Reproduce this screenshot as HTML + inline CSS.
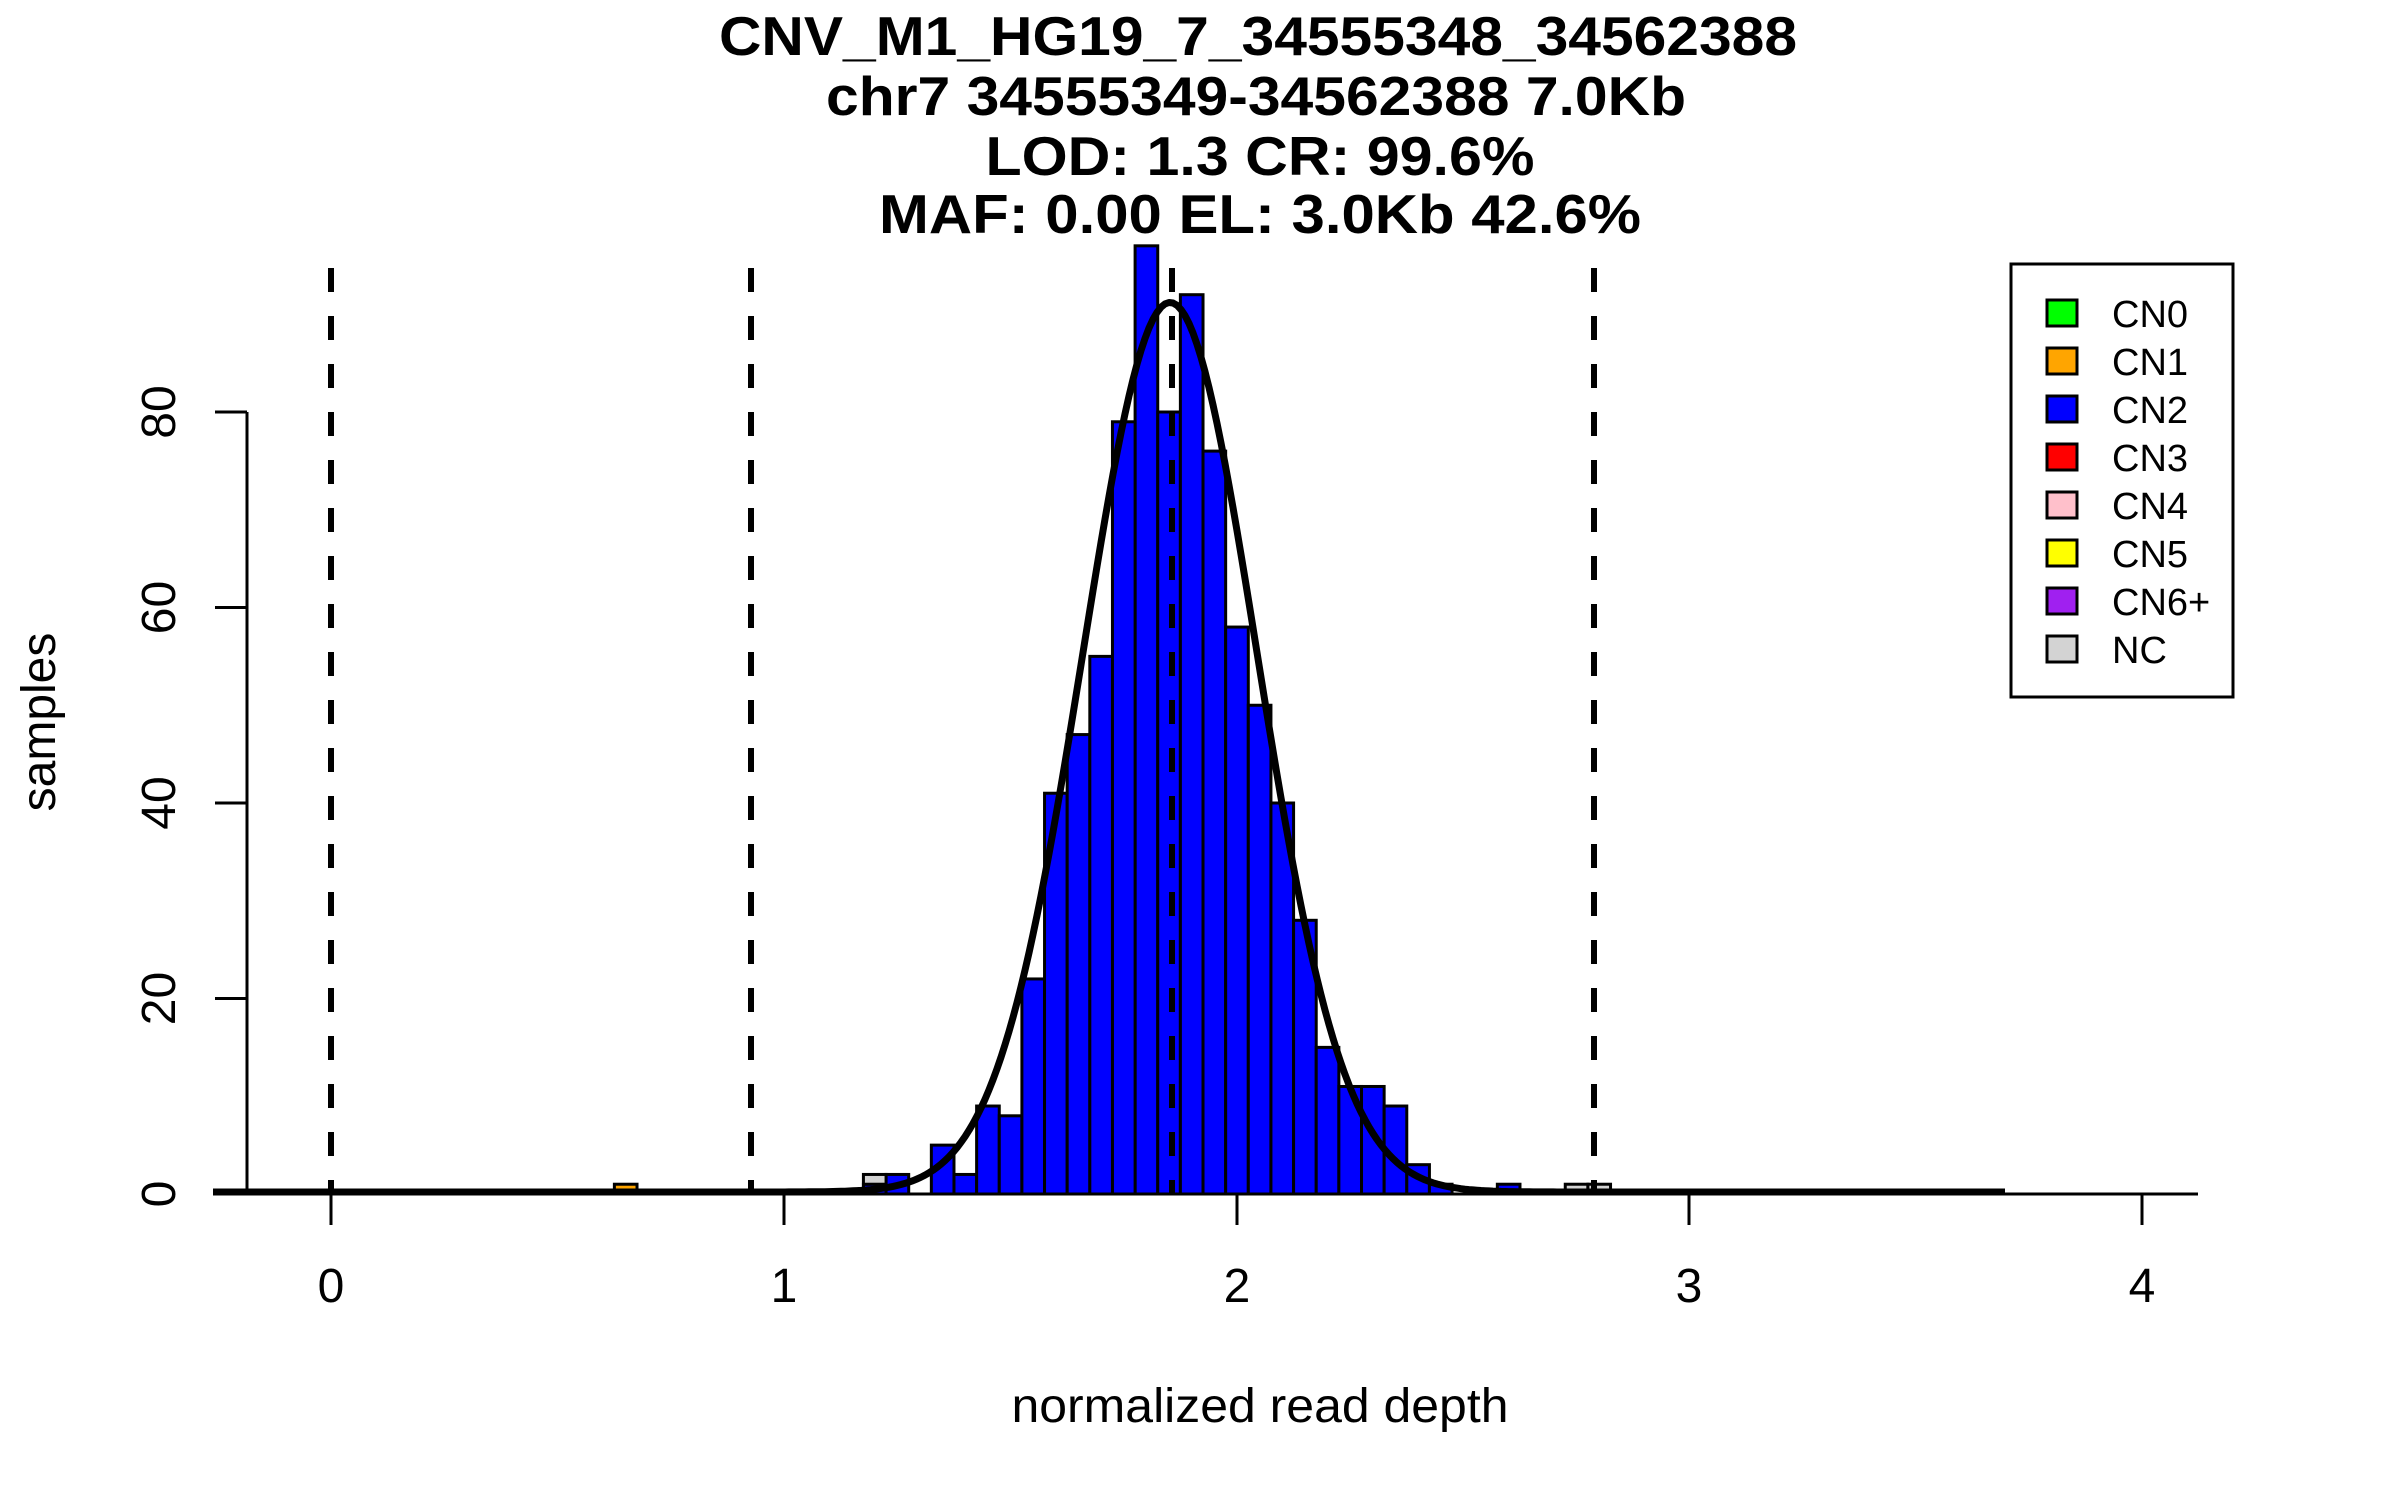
<!DOCTYPE html>
<html><head><meta charset="utf-8"><style>
html,body{margin:0;padding:0;background:#fff;}
svg{display:block;}
text{font-family:"Liberation Sans",Arial,sans-serif;fill:#000;}
</style></head><body>
<svg id="s" width="2400" height="1500" viewBox="0 0 2400 1500" xmlns="http://www.w3.org/2000/svg">
<rect width="2400" height="1500" fill="#fff"/>
<g font-weight="bold" font-size="55" text-anchor="middle">
<text x="1258" y="55" textLength="1078" lengthAdjust="spacingAndGlyphs">CNV_M1_HG19_7_34555348_34562388</text>
<text x="1256" y="115" textLength="860" lengthAdjust="spacingAndGlyphs">chr7 34555349-34562388 7.0Kb</text>
<text x="1260" y="175" textLength="549" lengthAdjust="spacingAndGlyphs">LOD: 1.3 CR: 99.6%</text>
<text x="1260" y="233" textLength="762" lengthAdjust="spacingAndGlyphs">MAF: 0.00 EL: 3.0Kb 42.6%</text>
</g>
<g id="bars" stroke="#000" stroke-width="3"></g>
<g stroke="#000" stroke-width="6" stroke-dasharray="24,24">
<line x1="331" y1="268" x2="331" y2="1194"/>
<line x1="751" y1="268" x2="751" y2="1194"/>
<line x1="1172" y1="268" x2="1172" y2="1194"/>
<line x1="1594" y1="268" x2="1594" y2="1194"/>
</g>
<path id="curve" fill="none" stroke="#000" stroke-width="7" stroke-linejoin="round"/>
<g stroke="#000" stroke-width="3">
<line x1="213" y1="1194" x2="2198" y2="1194"/>
<line x1="247" y1="412" x2="247" y2="1194"/>
<line x1="215" y1="412" x2="247" y2="412"/>
<line x1="215" y1="607.5" x2="247" y2="607.5"/>
<line x1="215" y1="803" x2="247" y2="803"/>
<line x1="215" y1="998.5" x2="247" y2="998.5"/>
<line x1="215" y1="1194" x2="247" y2="1194"/>
<line x1="331" y1="1194" x2="331" y2="1225"/>
<line x1="784" y1="1194" x2="784" y2="1225"/>
<line x1="1237" y1="1194" x2="1237" y2="1225"/>
<line x1="1689" y1="1194" x2="1689" y2="1225"/>
<line x1="2142" y1="1194" x2="2142" y2="1225"/>
</g>
<g font-size="48" text-anchor="middle">
<text x="331" y="1302">0</text>
<text x="784" y="1302">1</text>
<text x="1237" y="1302">2</text>
<text x="1689" y="1302">3</text>
<text x="2142" y="1302">4</text>
<text transform="translate(175,1194) rotate(-90)">0</text>
<text transform="translate(175,998.5) rotate(-90)">20</text>
<text transform="translate(175,803) rotate(-90)">40</text>
<text transform="translate(175,607.5) rotate(-90)">60</text>
<text transform="translate(175,412) rotate(-90)">80</text>
<text transform="translate(55,722) rotate(-90)">samples</text>
<text x="1260" y="1422" textLength="497" lengthAdjust="spacingAndGlyphs">normalized read depth</text>
</g>
<rect x="2011" y="264" width="222" height="433" fill="#fff" stroke="#000" stroke-width="3"/>
<g stroke="#000" stroke-width="3">
<rect x="2047" y="300" width="30" height="26" fill="#00FF00"/>
<rect x="2047" y="348" width="30" height="26" fill="#FFA500"/>
<rect x="2047" y="396" width="30" height="26" fill="#0000FF"/>
<rect x="2047" y="444" width="30" height="26" fill="#FF0000"/>
<rect x="2047" y="492" width="30" height="26" fill="#FFC0CB"/>
<rect x="2047" y="540" width="30" height="26" fill="#FFFF00"/>
<rect x="2047" y="588" width="30" height="26" fill="#A020F0"/>
<rect x="2047" y="636" width="30" height="26" fill="#D3D3D3"/>
</g>
<g font-size="38">
<text x="2112" y="327">CN0</text>
<text x="2112" y="375">CN1</text>
<text x="2112" y="423">CN2</text>
<text x="2112" y="471">CN3</text>
<text x="2112" y="519">CN4</text>
<text x="2112" y="567">CN5</text>
<text x="2112" y="615">CN6+</text>
<text x="2112" y="663">NC</text>
</g>
</svg>
<script>
(function(){
var NS="http://www.w3.org/2000/svg";
var g=document.getElementById("bars");
function E(k){return 1135.1+22.64*k;}
function Y(c){return 1194-9.775*c;}
function bar(k,c0,c1,fill){
 var r=document.createElementNS(NS,"rect");
 r.setAttribute("x",E(k));r.setAttribute("width",22.64);
 r.setAttribute("y",Y(c1));r.setAttribute("height",Y(c0)-Y(c1));
 r.setAttribute("fill",fill);g.appendChild(r);
}
var blue={"-12":1,"-11":2,"-9":5,"-8":2,"-7":9,"-6":8,"-5":22,"-4":41,"-3":47,"-2":55,"-1":79,"0":97,"1":80,"2":92,"3":76,"4":58,"5":50,"6":40,"7":28,"8":15,"9":11,"10":11,"11":9,"12":3,"13":1,"16":1};
for(var k in blue){bar(+k,0,blue[k],"#0000FF");}
bar(-12,1,2,"#D3D3D3");
bar(19,0,1,"#D3D3D3");bar(20,0,1,"#D3D3D3");
bar(-23,0,1,"#FFA500");
var d="";
for(var x=213;x<=2005;x+=4){
 var z=(x-1170)/87;
 var y=1192-91*9.775*Math.exp(-z*z/2);
 d+=(x==213?"M":"L")+x+","+y.toFixed(1)+" ";
}
document.getElementById("curve").setAttribute("d",d);
})();
</script>
</body></html>
